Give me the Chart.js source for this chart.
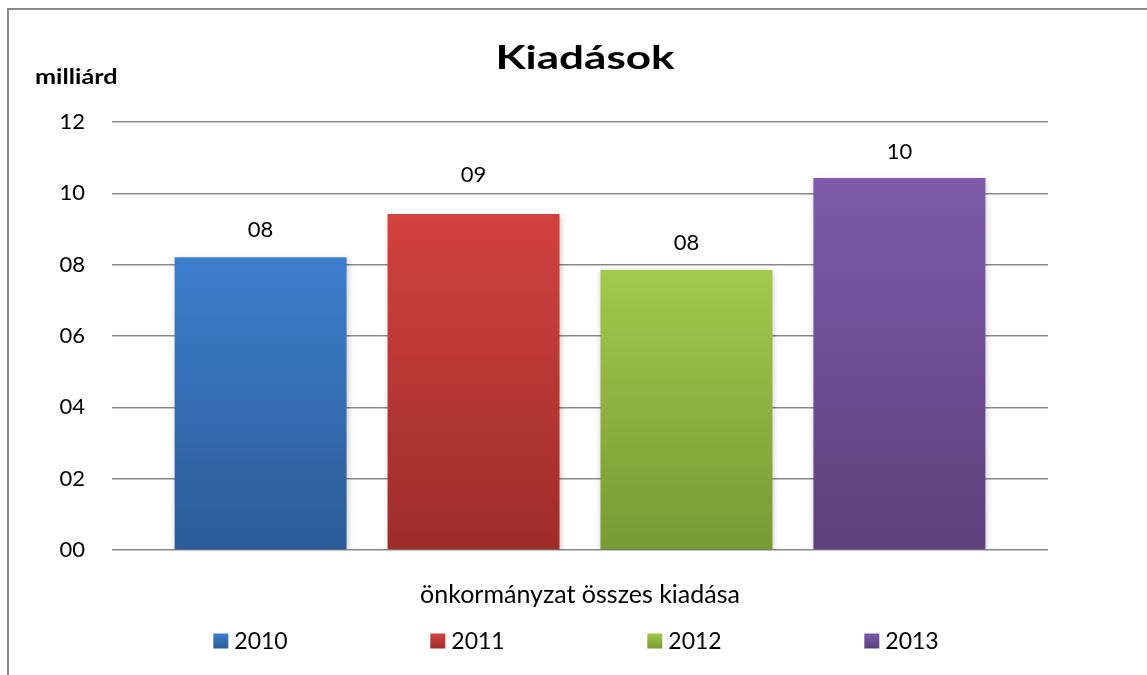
<!DOCTYPE html>
<html>
<head>
<meta charset="utf-8">
<title>Kiadások</title>
<script src="https://cdn.jsdelivr.net/npm/chart.js@4.4.1/dist/chart.umd.min.js"></script>
<style>
  html, body { margin: 0; padding: 0; background: #fff; }
  canvas { display: block; }
</style>
</head>
<body>
<canvas id="kiadasChart" width="1147" height="675"></canvas>
<script>
// adatok (milliárd Ft)
const years = ['2010', '2011', '2012', '2013'];
const category = ['önkormányzat összes kiadása'];
const values = [8.21, 9.42, 7.85, 10.43];
const yMax = 12;
const yStep = 2;
const chartTitle = 'Kiadások';
const unitLabel = 'milliárd';

const topColors = ['#3d7fcd', '#d2423e', '#a4c84c', '#7e5aa9'];
const bottomColors = ['#2b5c97', '#9d2d2a', '#779a34', '#5c417d'];

const FONT = 'Lato, "Open Sans", sans-serif';
const pad2 = v => String(Math.round(v)).padStart(2, '0');

function barGradient(ctx, i) {
    const chart = ctx.chart;
    const area = chart.chartArea;
    if (!area || !chart.scales.y) return topColors[i];
    const top = chart.scales.y.getPixelForValue(values[i]);
    const g = chart.ctx.createLinearGradient(0, top, 0, area.bottom);
    g.addColorStop(0, topColors[i]);
    g.addColorStop(1, bottomColors[i]);
    return g;
}

// kissé szélesített szöveg (az eredeti ábra betűi szélesebbek)
function wideText(c, text, x, y, sx) {
    c.save();
    c.translate(x, y);
    c.scale(sx, 1);
    c.fillText(text, 0, 0);
    c.restore();
}

const decor = {
    id: 'decor',
    labelGap: [27, 39, 27, 26],
    beforeDraw(chart) {
        const c = chart.ctx;
        c.save();
        c.fillStyle = '#fff';
        c.fillRect(0, 0, chart.width, chart.height);
        c.strokeStyle = '#898989';
        c.lineWidth = 2;
        c.beginPath();
        c.moveTo(8, chart.height);
        c.lineTo(8, 9);
        c.lineTo(chart.width, 9);
        c.stroke();
        c.restore();
    },
    beforeDatasetsDraw(chart) {
        const c = chart.ctx;
        c.save();
        c.shadowColor = 'rgba(0,0,0,0.22)';
        c.shadowBlur = 6;
        c.shadowOffsetX = 1;
        c.shadowOffsetY = 2;
    },
    afterDatasetsDraw(chart) {
        const c = chart.ctx;
        c.restore();
        c.save();
        c.fillStyle = '#000';
        c.font = '22px ' + FONT;
        c.textAlign = 'center';
        c.textBaseline = 'middle';
        chart.data.datasets.forEach((ds, i) => {
            const bar = chart.getDatasetMeta(i).data[0];
            c.fillText(pad2(ds.data[0]), bar.x, bar.y - decor.labelGap[i]);
        });
        c.restore();
    },
    afterDraw(chart) {
        const c = chart.ctx;
        const area = chart.chartArea;
        const mid = (area.left + area.right) / 2;
        c.save();
        c.fillStyle = '#000';
        c.textBaseline = 'middle';

        // cím
        c.font = 'bold 32px ' + FONT;
        c.textAlign = 'center';
        wideText(c, chartTitle, mid + 5, 59, 1.375);

        // mértékegység
        c.font = 'bold 21px ' + FONT;
        c.textAlign = 'left';
        wideText(c, unitLabel, 35, 77, 1.2);

        // jelmagyarázat
        c.font = '23px ' + FONT;
        const stride = 217;
        const box = 15;
        const lastText = c.measureText(years[years.length - 1]).width;
        const span = stride * (years.length - 1) + box + 6 + lastText;
        let x = mid - 4 - span / 2;
        const y = 641;
        years.forEach((yr, i) => {
            const g = c.createLinearGradient(0, y - box / 2, 0, y + box / 2);
            g.addColorStop(0, topColors[i]);
            g.addColorStop(1, bottomColors[i]);
            c.fillStyle = g;
            c.fillRect(x, y - box / 2, box, box);
            c.fillStyle = '#000';
            c.fillText(yr, x + box + 6, y + 1);
            x += stride;
        });
        c.restore();
    }
};

new Chart(document.getElementById('kiadasChart'), {
    type: 'bar',
    data: {
        labels: category,
        datasets: years.map((yr, i) => ({
            label: yr,
            data: [values[i]],
            backgroundColor: ctx => barGradient(ctx, i),
            borderWidth: 0,
            categoryPercentage: 0.91,
            barPercentage: 0.8075
        }))
    },
    options: {
        responsive: false,
        animation: false,
        layout: {
            padding: { top: 122, bottom: 65, left: 0, right: 99 }
        },
        plugins: {
            legend: { display: false },
            title: { display: false },
            tooltip: { enabled: false }
        },
        scales: {
            x: {
                grid: { display: false },
                border: { display: false },
                ticks: {
                    color: '#000',
                    font: { family: FONT, size: 25 },
                    padding: 22
                },
                afterFit: scale => { scale.height = 60; }
            },
            y: {
                min: 0,
                max: yMax,
                grid: { color: '#888', lineWidth: 1.5, drawTicks: false },
                border: { display: false },
                ticks: {
                    stepSize: yStep,
                    color: '#000',
                    font: { family: FONT, size: 22 },
                    padding: 27,
                    callback: v => pad2(v)
                },
                afterFit: scale => { scale.width = 112; }
            }
        }
    },
    plugins: [decor]
});
</script>
</body>
</html>
